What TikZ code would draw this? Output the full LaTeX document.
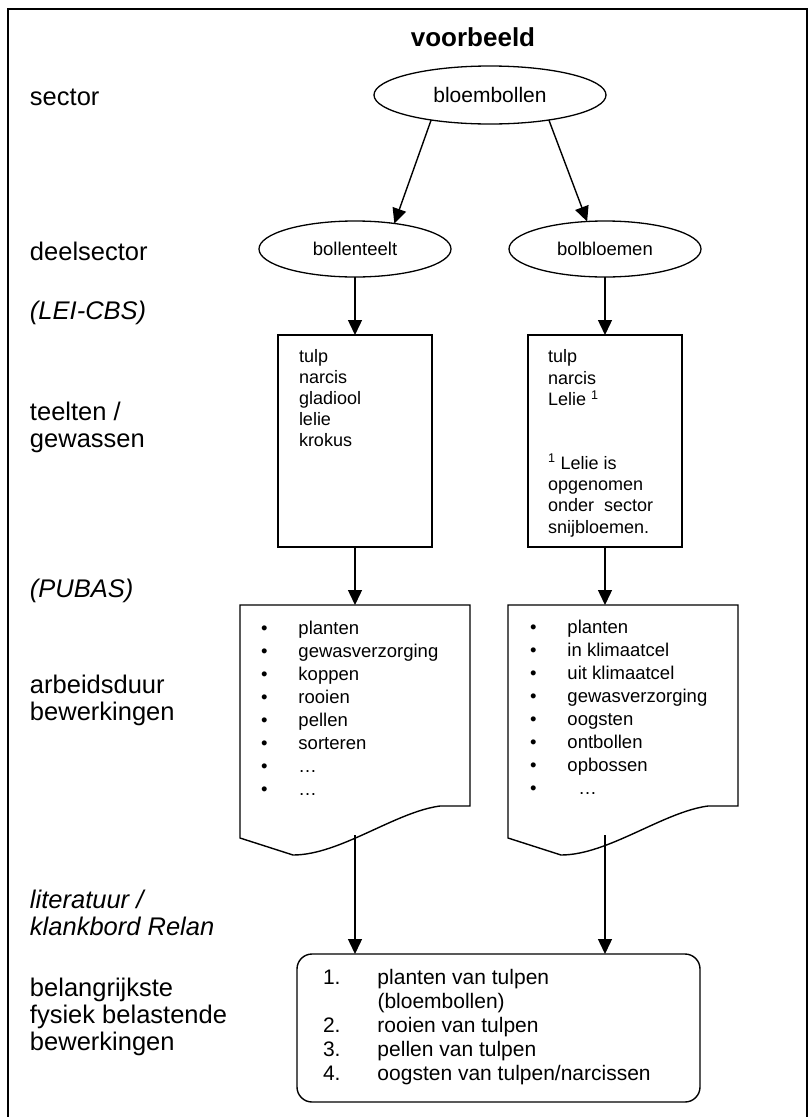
\documentclass[tikz,border=0pt]{standalone}
\usepackage{fontspec}
\setmainfont{Liberation Sans}
\usetikzlibrary{arrows.meta,shapes.geometric,calc}
\begin{document}
\begin{tikzpicture}[x=1pt,y=-1pt,
  every node/.style={inner sep=0pt, outer sep=0pt},
  lbl/.style={anchor=west, align=left, font=\fontsize{25.5}{27}\selectfont},
  ilbl/.style={anchor=west, align=left, font=\fontsize{25.5}{27}\selectfont\itshape},
  ell/.style={draw, ellipse, line width=1.3pt, minimum width=192pt, minimum height=56pt, font=\fontsize{18.5}{21}\selectfont},
  boxn/.style={draw, rectangle, line width=1.4pt, minimum width=154pt, minimum height=212pt},
  docn/.style={rectangle, minimum height=230pt},
  txt/.style={anchor=north west, align=left},
  arr/.style={line width=1.4pt, -{Triangle[length=15pt,width=14pt]}},
  ln/.style={line width=1.4pt},
  docshape/.pic={
    \draw[ln] (0,0) -- (230,0) -- (230,201) -- (200,201)
      .. controls (155,207) and (100,250) .. (53,250) -- (0,233) -- cycle;
  }
]
\useasboundingbox (0,0) rectangle (808,1117);
% frame
\draw[line width=2pt] (8,1117) -- (8,9) -- (807,9) -- (807,1117);

% title and row labels
\node[font=\fontsize{26}{28}\selectfont\bfseries] (title) at (473,37) {voorbeeld};
\node[lbl] (lsector) at (30,97) {sector};
\node[lbl] (ldeel) at (30,251) {deelsector};
\node[ilbl] (llei) at (30,313) {(LEI-CBS)};
\node[lbl] (lteelt) at (30,427) {teelten /\\gewassen};
\node[ilbl] (lpubas) at (30,591) {(PUBAS)};
\node[lbl] (larb) at (30,700) {arbeidsduur\\bewerkingen};
\node[ilbl] (llit) at (30,913) {literatuur /\\klankbord Relan};
\node[lbl] (lbel) at (30,1017) {belangrijkste\\fysiek belastende\\bewerkingen};

% ellipses
\node[ell, minimum width=232pt, minimum height=58pt, font=\fontsize{21}{24}\selectfont] (bloem) at (490,95) {bloembollen};
\node[ell] (bt) at (355,249) {bollenteelt};
\node[ell] (bb) at (605,249) {bolbloemen};
\draw[arr] (bloem.203) -- (bt.33);
\draw[arr] (bloem.337) -- (bb.123);

% crop boxes
\node[boxn] (b1) at (355,441) {};
\node[boxn] (b2) at (605,441) {};
\draw[arr] (bt.south) -- (b1.north);
\draw[arr] (bb.south) -- (b2.north);
\node[txt, font=\fontsize{18}{21}\selectfont] (t1) at (299,348)
  {\begin{tabular}{@{}l@{}}tulp\\narcis\\gladiool\\lelie\\krokus\end{tabular}};
\node[txt, font=\fontsize{18}{21.25}\selectfont] (t2) at (548,348)
  {\begin{tabular}{@{}l@{}}tulp\\narcis\\Lelie \textsuperscript{1}\\ \\ \\
   \textsuperscript{1} Lelie is\\opgenomen\\onder~ sector\\snijbloemen.\end{tabular}};

% documents
\node[docn, minimum width=230pt] (d1) at (355,720) {};
\node[docn, minimum width=231pt] (d2) at (623.5,720) {};
\pic at (d1.north west) {docshape};
\pic at (d2.north west) {docshape};
\draw[arr] (b1.south) -- (b1.south |- d1.north);
\draw[arr] (b2.south) -- (b2.south |- d2.north);
\node[txt, font=\fontsize{18.5}{23}\selectfont] (l1) at (261,618)
  {\begin{tabular}{@{}l@{\hspace{31pt}}l@{}}
   \textbullet & planten\\ \textbullet & gewasverzorging\\ \textbullet & koppen\\
   \textbullet & rooien\\ \textbullet & pellen\\ \textbullet & sorteren\\
   \textbullet & …\\ \textbullet & …\end{tabular}};
\node[txt, font=\fontsize{18.5}{23}\selectfont] (l2) at (530,617)
  {\begin{tabular}{@{}l@{\hspace{31pt}}l@{}}
   \textbullet & planten\\ \textbullet & in klimaatcel\\ \textbullet & uit klimaatcel\\
   \textbullet & gewasverzorging\\ \textbullet & oogsten\\ \textbullet & ontbollen\\
   \textbullet & opbossen\\ \textbullet & \hspace{11pt}…\end{tabular}};

% final box
\node[draw, rectangle, rounded corners=15pt, line width=1.4pt, minimum width=403pt, minimum height=148pt] (fin) at (498.5,1028) {};
\draw[arr] (d1.south) -- (d1.south |- fin.north);
\draw[arr] (b2.south |- d2.south) -- (b2.south |- fin.north);
\node[txt, font=\fontsize{21}{24}\selectfont] (ft) at (323,968)
  {\begin{tabular}{@{}l@{\hspace{37pt}}l@{}}
   1. & planten van tulpen\\ & (bloembollen)\\ 2. & rooien van tulpen\\
   3. & pellen van tulpen\\ 4. & oogsten van tulpen/narcissen\end{tabular}};
\end{tikzpicture}
\end{document}
